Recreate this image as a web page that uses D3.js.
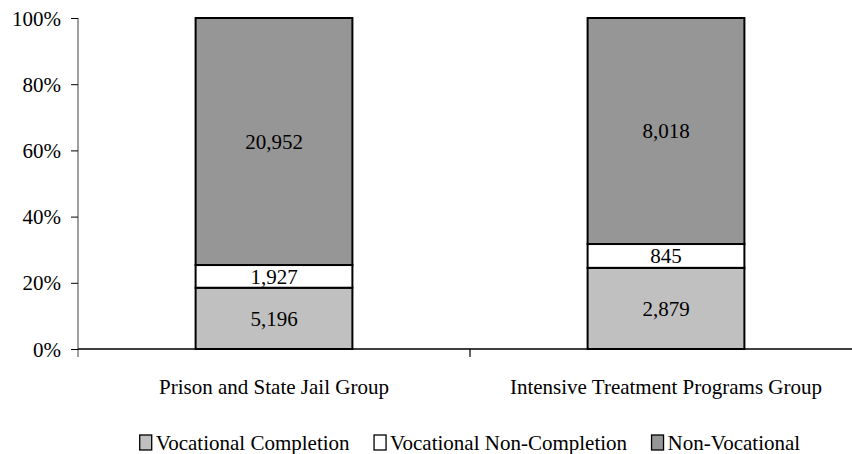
<!DOCTYPE html>
<html>
<head>
<meta charset="utf-8">
<script src="https://cdn.jsdelivr.net/npm/d3@7"></script>
<style>
  body { margin: 0; background: #fff; }
  svg text { font-family: "Liberation Serif", "Times New Roman", serif; fill: #000; }
</style>
</head>
<body>
<svg id="chart" width="852" height="454"></svg>
<script>
// data
const categories = ["Prison and State Jail Group", "Intensive Treatment Programs Group"];
const seriesNames = ["Vocational Completion", "Vocational Non-Completion", "Non-Vocational"];
const vocCompletion = [5196, 2879];
const vocNonCompletion = [1927, 845];
const nonVocational = [20952, 8018];
const yTicks = [0, 0.2, 0.4, 0.6, 0.8, 1];

const colors = ["#c0c0c0", "#ffffff", "#969696"];
const fs = 21;
const serif = '"Liberation Serif", "Times New Roman", serif';

const rows = categories.map((c, i) => ({
  cat: c,
  [seriesNames[0]]: vocCompletion[i],
  [seriesNames[1]]: vocNonCompletion[i],
  [seriesNames[2]]: nonVocational[i]
}));

const layers = d3.stack().keys(seriesNames).offset(d3.stackOffsetExpand)(rows);

const svg = d3.select("#chart").attr("font-family", serif);

// excel-style bands, gap width 150%
const x = d3.scaleBand().domain(categories).range([78, 862]).paddingInner(0.6).paddingOuter(0.3);
const xEdge = d3.scaleBand().domain(categories).range([78, 862]);
const y = d3.scaleLinear().domain([0, 1]).range([349, 18]);
const cx = c => x(c) + x.bandwidth() / 2;

// y axis
const yAxis = svg.append("g").attr("transform", "translate(78,0)")
  .call(d3.axisLeft(y).tickValues(yTicks).tickFormat(d3.format(".0%")).tickSize(7).tickSizeOuter(0));
yAxis.attr("font-family", serif).attr("font-size", fs);
yAxis.select(".domain").attr("d", "M0,18V357").attr("stroke", "#808080").attr("stroke-width", 1.5);
yAxis.selectAll(".tick line").attr("stroke", "#000");
yAxis.selectAll(".tick text").attr("x", -17).attr("dy", "0.34em");

// bars
const g = svg.append("g");
layers.forEach((layer, li) => {
  g.selectAll(null).data(layer).enter().append("rect")
    .attr("x", d => x(d.data.cat))
    .attr("y", d => y(d[1]))
    .attr("width", x.bandwidth())
    .attr("height", d => y(d[0]) - y(d[1]))
    .attr("fill", colors[li])
    .attr("stroke", "#000")
    .attr("stroke-width", 2);
  g.selectAll(null).data(layer).enter().append("text")
    .attr("x", d => cx(d.data.cat))
    .attr("y", d => (y(d[0]) + y(d[1])) / 2)
    .attr("dy", "0.34em")
    .attr("text-anchor", "middle")
    .attr("font-size", fs)
    .text(d => d3.format(",")(d.data[layer.key]));
});

// x axis
const xAxis = svg.append("g").attr("transform", "translate(0,349)");
xAxis.append("line").attr("x1", 78).attr("x2", 852).attr("stroke", "#000").attr("stroke-width", 1.3);
xAxis.selectAll(null).data(categories.slice(1)).enter().append("line")
  .attr("x1", d => xEdge(d)).attr("x2", d => xEdge(d)).attr("y1", 0).attr("y2", 8)
  .attr("stroke", "#000").attr("stroke-width", 1.2);
xAxis.selectAll(null).data(categories).enter().append("text")
  .attr("x", d => cx(d))
  .attr("y", 38)
  .attr("dy", "0.34em")
  .attr("text-anchor", "middle")
  .attr("font-size", fs)
  .text(d => d);

// legend, centred under the plot
const legend = svg.append("g").attr("transform", "translate(0,443)");
const items = seriesNames.map((s, i) => {
  const it = legend.append("g");
  it.append("rect").attr("x", 0).attr("y", -8).attr("width", 12).attr("height", 15)
    .attr("fill", colors[i]).attr("stroke", "#000").attr("stroke-width", 1.3);
  it.append("text").attr("x", 16).attr("y", 0).attr("dy", "0.34em")
    .attr("font-size", fs).text(s);
  return it;
});
const widths = items.map(it => it.node().getBBox().width);
const gap = 24;
let lx = 470 - (d3.sum(widths) + gap * (widths.length - 1)) / 2;
items.forEach((it, i) => {
  it.attr("transform", `translate(${lx},0)`);
  lx += widths[i] + gap;
});
</script>
</body>
</html>
